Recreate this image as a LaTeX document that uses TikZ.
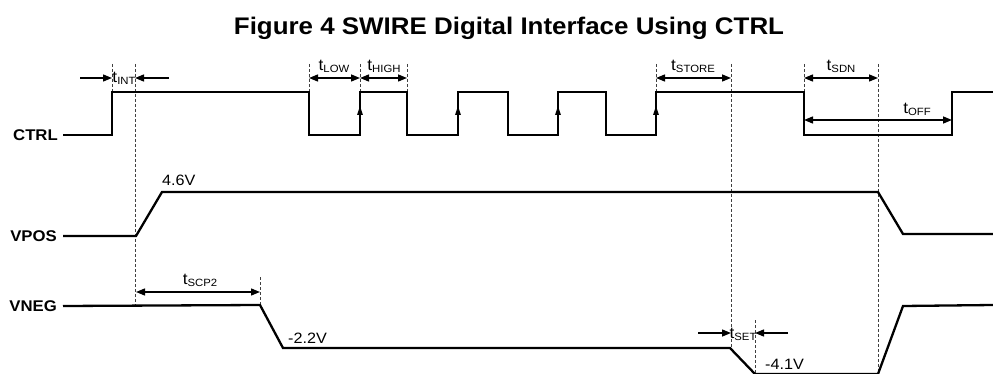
\documentclass[tikz,border=0pt]{standalone}
\usepackage{fontspec}
\setmainfont{Liberation Sans}[FakeStretch=1.08]
\usetikzlibrary{arrows.meta}
\newcommand\tsb[1]{t\raisebox{-0.12em}{\fontsize{10.5}{12}\selectfont #1}}
\tikzset{
  sig/.style={line width=2.3pt, line join=miter, black},
  guide/.style={line width=0.6pt, dash pattern=on 3pt off 2pt, black!75},
  dim/.style={line width=1.4pt, {Triangle[length=9pt,width=7pt]}-{Triangle[length=9pt,width=7pt]}},
  pin/.style={line width=1.4pt, -{Triangle[length=9pt,width=7pt]}},
  edge/.style={line width=1.2pt, -{Triangle[length=9pt,width=5.5pt]}},
  sname/.style={font=\fontsize{15.5}{18}\selectfont\bfseries, anchor=east, inner sep=0pt},
  tlab/.style={font=\fontsize{16}{18}\selectfont, inner sep=0pt},
  vlab/.style={font=\fontsize{15}{18}\selectfont, anchor=west, inner sep=0pt},
}
\begin{document}
\begin{tikzpicture}[x=1pt,y=-1pt]
\useasboundingbox (0,0) rectangle (993,374);
% title
\node[font=\fontsize{24}{28}\selectfont\bfseries, inner sep=0pt] (title) at (509,28) {Figure 4 SWIRE Digital Interface Using CTRL};
% signal names
\node[sname] (ctrl) at (58,135) {CTRL};
\node[sname] (vpos) at (57,236) {VPOS};
\node[sname] (vneg) at (57,306) {VNEG};
% guides
\draw[guide] (112,64) -- (112,92);
\draw[guide] (135,64) -- (135,306);
\draw[guide] (309,64) -- (309,92);
\draw[guide] (360,64) -- (360,92);
\draw[guide] (407,64) -- (407,92);
\draw[guide] (656,64) -- (656,92);
\draw[guide] (731,64) -- (731,348);
\draw[guide] (804,64) -- (804,92);
\draw[guide] (878,64) -- (878,374);
\draw[guide] (260,277) -- (260,306);
\draw[guide] (755,320) -- (755,374);
% CTRL waveform
\coordinate (c0) at (63,135);
\draw[sig] (c0) -- (112,135) -- (112,92) -- (309,92) -- (309,135) -- (360,135) -- (360,92)
  -- (407,92) -- (407,135) -- (458,135) -- (458,92) -- (508,92) -- (508,135) -- (558,135)
  -- (558,92) -- (606,92) -- (606,135) -- (656,135) -- (656,92) -- (804,92) -- (804,135)
  -- (952,135) -- (952,92) -- (993,92);
\foreach \x in {360,458,558,656} \draw[edge] (\x,130) -- (\x,106);
% VPOS waveform
\draw[sig] (63,236) -- (136,236) -- (162,192) -- (878,192) -- (903,234) -- (993,234);
% VNEG waveform
\draw[sig] (63,306) -- (260,305) -- (283,348) -- (730,348) -- (755,374) -- (878,374) -- (903,306) -- (993,305);
% timing annotations
\coordinate (ia) at (80,78); \coordinate (ib) at (112,78);
\coordinate (ic) at (169,78); \coordinate (id) at (135,78);
\draw[pin] (ia) -- (ib);
\draw[pin] (ic) -- (id);
\node[tlab] (tint) at (124,78) {\tsb{INT}};
\draw[dim] (309,78) -- (360,78);
\node[tlab] (tlow) at (334,66) {\tsb{LOW}};
\draw[dim] (360,78) -- (407,78);
\node[tlab] (thigh) at (384,66) {\tsb{HIGH}};
\draw[dim] (656,78) -- (731,78);
\node[tlab] (tstore) at (693,66) {\tsb{STORE}};
\draw[dim] (804,78) -- (878,78);
\node[tlab] (tsdn) at (841,66) {\tsb{SDN}};
\draw[dim] (804,120) -- (952,120);
\node[tlab] (toff) at (917,109) {\tsb{OFF}};
\draw[dim] (136,292) -- (260,292);
\node[tlab] (tscp) at (200,280) {\tsb{SCP2}};
\draw[pin] (698,333) -- (731,333);
\draw[pin] (788,333) -- (755,333);
\node[tlab] (tset) at (743,334) {\tsb{SET}};
% voltages
\node[vlab] (v46) at (162,180) {4.6V};
\node[vlab] (v22) at (288,338) {-2.2V};
\node[vlab] (v41) at (765,364) {-4.1V};
\end{tikzpicture}
\end{document}
